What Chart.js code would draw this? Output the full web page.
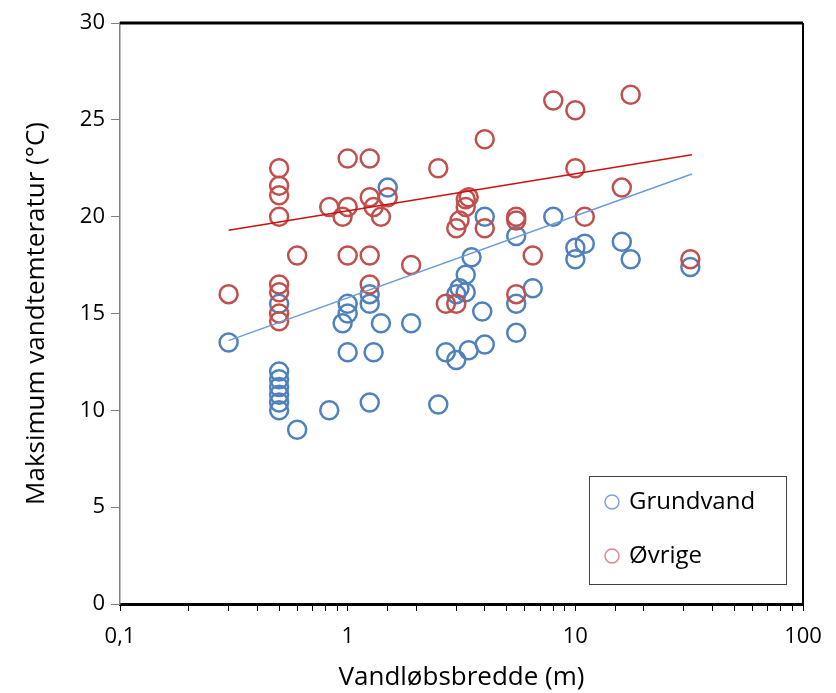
<!DOCTYPE html>
<html>
<head>
<meta charset="utf-8">
<script src="https://cdn.jsdelivr.net/npm/chart.js@4.4.0/dist/chart.umd.min.js"></script>
<style>
  html, body { margin: 0; padding: 0; background: #fff; }
  #wrap { width: 836px; height: 693px; }
</style>
</head>
<body>
<div id="wrap"><canvas id="graf" width="836" height="693"></canvas></div>
<script>
// Grundvand (blå)
var grundvandX = [0.3, 0.5, 0.5, 0.5, 0.5, 0.5, 0.5, 0.5, 0.6, 0.83, 0.95, 1.0, 1.0, 1.0, 1.25, 1.25, 1.25, 1.3, 1.4, 1.5, 1.9, 2.5, 2.7, 3.0, 3.0, 3.1, 3.3, 3.3, 3.4, 3.5, 3.9, 4.0, 4.0, 5.5, 5.5, 5.5, 6.5, 8, 10, 10, 11, 16, 17.5, 32];
var grundvandY = [13.5, 12.0, 11.6, 11.2, 10.8, 10.4, 10.0, 15.5, 9.0, 10.0, 14.5, 15.5, 15.0, 13.0, 16.0, 15.5, 10.4, 13.0, 14.5, 21.5, 14.5, 10.3, 13.0, 12.6, 16.0, 16.3, 16.1, 17.0, 13.1, 17.9, 15.1, 13.4, 20.0, 19.0, 15.5, 14.0, 16.3, 20.0, 18.4, 17.8, 18.6, 18.7, 17.8, 17.4];

// Øvrige (røde)
var ovrigeX = [0.3, 0.5, 0.5, 0.5, 0.5, 0.5, 0.5, 0.5, 0.5, 0.6, 0.83, 0.95, 1.0, 1.0, 1.0, 1.25, 1.25, 1.25, 1.25, 1.3, 1.4, 1.5, 1.9, 2.5, 2.7, 3.0, 3.0, 3.1, 3.3, 3.3, 3.4, 4.0, 4.0, 5.5, 5.5, 5.5, 6.5, 8, 10, 10, 11, 16, 17.5, 32];
var ovrigeY = [16.0, 22.5, 21.6, 21.1, 20.0, 16.5, 16.1, 15.0, 14.6, 18.0, 20.5, 20.0, 23.0, 20.5, 18.0, 23.0, 21.0, 18.0, 16.5, 20.5, 20.0, 21.0, 17.5, 22.5, 15.5, 19.4, 15.5, 19.8, 20.9, 20.5, 21.0, 24.0, 19.4, 20.0, 19.8, 16.0, 18.0, 26.0, 25.5, 22.5, 20.0, 21.5, 26.3, 17.8];

// Tendenslinjer (endepunkter aflæst)
var trendX = [0.3, 32.5];
var trendGrundvandY = [13.6, 22.2];
var trendOvrigeY = [19.3, 23.2];

var xTickLabels = {0.1: '0,1', 1: '1', 10: '10', 100: '100'};
var yTicks = [0, 5, 10, 15, 20, 25, 30];

function punkter(xs, ys) {
    return xs.map(function(x, i) { return {x: x, y: ys[i]}; });
}

var BLAA = '#4F81BD';
var ROED = '#C0504D';
var FONT = "'Open Sans', 'Noto Sans', sans-serif";

// Ramme øverst og til højre + forklaring
var rammePlugin = {
    id: 'ramme',
    afterDraw: function(chart) {
        var ctx = chart.ctx;
        var a = chart.chartArea;
        ctx.save();
        ctx.strokeStyle = '#000';
        ctx.lineWidth = 3;
        ctx.beginPath();
        ctx.moveTo(a.left, a.top);
        ctx.lineTo(a.right, a.top);
        ctx.stroke();
        ctx.lineWidth = 2;
        ctx.beginPath();
        ctx.moveTo(a.right, a.top);
        ctx.lineTo(a.right, a.bottom);
        ctx.stroke();

        // forklaring
        ctx.fillStyle = '#fff';
        ctx.fillRect(589.5, 476.5, 197, 108);
        ctx.strokeStyle = '#404040';
        ctx.lineWidth = 1;
        ctx.strokeRect(589.5, 476.5, 197, 108);
        var poster = [
            {tekst: chart.data.datasets[3].label, farve: '#7FA3D6', y: 502},
            {tekst: chart.data.datasets[2].label, farve: '#D98A88', y: 556}
        ];
        ctx.font = '24px ' + FONT;
        ctx.textBaseline = 'middle';
        poster.forEach(function(p) {
            ctx.strokeStyle = p.farve;
            ctx.lineWidth = 1.5;
            ctx.beginPath();
            ctx.arc(612, p.y, 7, 0, Math.PI * 2);
            ctx.stroke();
            ctx.fillStyle = '#000';
            ctx.fillText(p.tekst, 629, p.y);
        });
        ctx.restore();
    }
};

var ctx = document.getElementById('graf').getContext('2d');
var myChart = new Chart(ctx, {
    type: 'scatter',
    data: {
        datasets: [
            {
                label: 'Tendens Øvrige',
                data: punkter(trendX, trendOvrigeY),
                showLine: true,
                borderColor: '#CC1111',
                borderWidth: 1.5,
                pointRadius: 0
            },
            {
                label: 'Tendens Grundvand',
                data: punkter(trendX, trendGrundvandY),
                showLine: true,
                borderColor: '#6B9BDB',
                borderWidth: 1.5,
                pointRadius: 0
            },
            {
                label: 'Øvrige',
                data: punkter(ovrigeX, ovrigeY),
                borderColor: ROED,
                backgroundColor: 'rgba(0,0,0,0)',
                pointRadius: 9,
                pointBorderWidth: 2.5
            },
            {
                label: 'Grundvand',
                data: punkter(grundvandX, grundvandY),
                borderColor: BLAA,
                backgroundColor: 'rgba(0,0,0,0)',
                pointRadius: 9,
                pointBorderWidth: 2.5
            }
        ]
    },
    options: {
        responsive: false,
        animation: false,
        layout: { padding: { top: 23, right: 33, left: 0, bottom: 0 } },
        plugins: {
            legend: { display: false },
            tooltip: { enabled: false }
        },
        scales: {
            x: {
                type: 'logarithmic',
                min: 0.1,
                max: 100,
                afterFit: function(scale) { scale.height = 89; },
                border: { color: '#000', width: 3 },
                grid: { drawOnChartArea: false, drawTicks: true, tickLength: 7, color: '#000', lineWidth: 1 },
                ticks: {
                    autoSkip: false,
                    maxRotation: 0,
                    padding: 13,
                    color: '#000',
                    font: { size: 22, family: FONT },
                    callback: function(value) {
                        var v = Math.round(value * 10) / 10;
                        return xTickLabels[v] !== undefined ? xTickLabels[v] : '';
                    }
                },
                title: {
                    display: true,
                    text: 'Vandløbsbredde (m)',
                    color: '#000',
                    font: { size: 26, family: FONT },
                    padding: { top: 0, bottom: 0 }
                }
            },
            y: {
                min: 0,
                max: 30,
                afterFit: function(scale) { scale.width = 120; },
                afterBuildTicks: function(scale) {
                    scale.ticks = yTicks.map(function(v) { return {value: v}; });
                },
                border: { color: '#808080', width: 1.5 },
                grid: { drawOnChartArea: false, drawTicks: true, tickLength: 9, color: '#808080' },
                ticks: {
                    padding: 6,
                    color: '#000',
                    font: { size: 22, family: FONT }
                },
                title: {
                    display: true,
                    text: 'Maksimum vandtemteratur (°C)',
                    color: '#000',
                    font: { size: 26, family: FONT },
                    padding: { top: 21, bottom: 0 }
                }
            }
        }
    },
    plugins: [rammePlugin]
});
</script>
</body>
</html>
